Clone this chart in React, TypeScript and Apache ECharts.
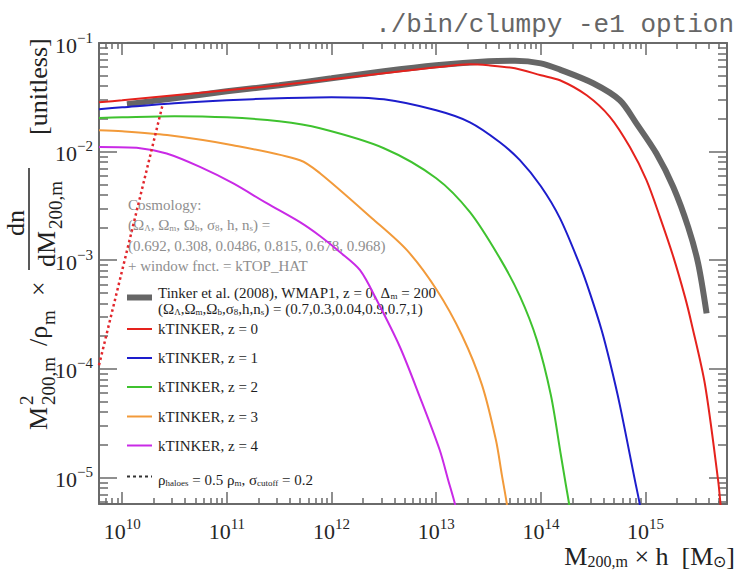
import { useEffect, useRef } from "react";
import * as echarts from "echarts";

// Halo mass M_200,m x h [M_sun] and M^2/rho_m x dn/dM [unitless] for each curve
const tinkerMass = [1.11e10, 3.16e10, 1e11, 3.16e11, 1e12, 3.16e12, 1e13, 3.16e13, 5.65e13, 1e14, 1.52e14, 3.16e14, 5.68e14, 8.2e14, 1.27e15, 1.84e15, 2.55e15, 3.18e15, 3.83e15];
const tinkerValue = [0.0273, 0.031, 0.0359, 0.0408, 0.0473, 0.0549, 0.0623, 0.0679, 0.0686, 0.065, 0.0569, 0.0426, 0.0297, 0.0181, 0.0096, 0.00473, 0.00203, 0.000935, 0.000324];

const z0Mass = [6e9, 1e10, 3.16e10, 1e11, 3.16e11, 1e12, 3.16e12, 1e13, 2.1e13, 3.16e13, 5.65e13, 1e14, 1.52e14, 2.74e14, 4.56e14, 7.08e14, 1.02e15, 1.37e15, 1.84e15, 2.38e15, 2.75e15, 3.69e15, 4.93e15, 5.2e15, 5.47e15];
const z0Value = [0.0285, 0.0297, 0.033, 0.0367, 0.0408, 0.0463, 0.0526, 0.0597, 0.0637, 0.0623, 0.0585, 0.0505, 0.0454, 0.033, 0.0209, 0.011, 0.00546, 0.00251, 0.00108, 0.00046, 0.000262, 7.25e-5, 9.5e-6, 5.7e-6, 3.3e-6];

const z1Mass = [6e9, 1e10, 3.16e10, 1e11, 3.16e11, 1e12, 3.16e12, 1e13, 2.1e13, 4.05e13, 6.3e13, 1e14, 1.52e14, 2.36e14, 2.94e14, 3.8e14, 4.56e14, 5.68e14, 7.9e14, 8.8e14, 9.6e14];
const z1Value = [0.0246, 0.0256, 0.0279, 0.0297, 0.031, 0.0317, 0.0303, 0.024, 0.0186, 0.0122, 0.00834, 0.0048, 0.00244, 0.0009, 0.000498, 0.000228, 0.000116, 4.64e-5, 9.5e-6, 5.7e-6, 3.4e-6];

const z2Mass = [6e9, 1e10, 3.16e10, 1e11, 3.16e11, 7.75e11, 3.16e12, 1e13, 2.1e13, 4.05e13, 6.3e13, 9.16e13, 1.245e14, 1.552e14, 1.733e14, 1.86e14, 2.02e14];
const z2Value = [0.0204, 0.0207, 0.0212, 0.0207, 0.019, 0.0164, 0.01075, 0.00569, 0.00277, 0.001046, 0.000467, 0.000184, 5.74e-5, 1.61e-5, 8.53e-6, 5.7e-6, 3.0e-6];

const z3Mass = [6e9, 1e10, 2.68e10, 1.14e11, 4.99e11, 7.75e11, 2.43e12, 5.25e12, 1.016e13, 1.76e13, 2.74e13, 3.72e13, 4.24e13, 4.73e13, 5.06e13];
const z3Value = [0.0157, 0.0154, 0.0142, 0.01145, 0.00834, 0.00633, 0.00244, 0.001238, 0.00053, 0.000204, 7.09e-5, 2.21e-5, 1.05e-5, 5.7e-6, 3.5e-6];

const z4Mass = [6e9, 1.48e10, 2.66e10, 5.53e10, 1.14e11, 2.4e11, 4.99e11, 7.75e11, 1.2e12, 1.87e12, 2.7e12, 4.5e12, 6.98e12, 1.08e13, 1.3e13, 1.51e13, 1.61e13];
const z4Value = [0.011, 0.01075, 0.0096, 0.00723, 0.00512, 0.00335, 0.00224, 0.00167, 0.00119, 0.00081, 0.00043, 0.000159, 5.5e-5, 1.79e-5, 9.5e-6, 5.7e-6, 4.06e-6];

// rho_haloes = 0.5 rho_m cut-off branch
const cutoffMass = [6e9, 2.45e10];
const cutoffValue = [1.08e-4, 0.0278];

const xMin = 6e9;
const xMax = 6e15;
const yMin = 5.7e-6;
const yMax = 0.1;
const xMajorTicks = [1e10, 1e11, 1e12, 1e13, 1e14, 1e15];
const yMajorTicks = [1e-5, 1e-4, 1e-3, 1e-2, 1e-1];

const redshiftLabels = ["kTINKER, z = 0", "kTINKER, z = 1", "kTINKER, z = 2", "kTINKER, z = 3", "kTINKER, z = 4"];
const tinkerLabel = ["Tinker et al. (2008), WMAP1, z = 0, Δ{s|m} = 200", "(Ω{s|Λ},Ω{s|m},Ω{s|b},σ{s|8},h,n{s|s}) = (0.7,0.3,0.04,0.9,0.7,1)"];
const cutoffLabel = "ρ{s|haloes} = 0.5 ρ{s|m}, σ{s|cutoff} = 0.2";
const cosmologyLines = ["Cosmology:", "(Ω{s|Λ}, Ω{s|m}, Ω{s|b}, σ{s|8}, h, n{s|s}) =", "(0.692, 0.308, 0.0486, 0.815, 0.678, 0.968)", "+ window fnct. = kTOP_HAT"];

const SERIF = "'Liberation Serif', 'Times New Roman', serif";
const FRAME = "#6a6a6a";
const COLORS = ["#e5221d", "#1d1dcc", "#3fc22f", "#f29a3a", "#c92ae6"];
const GRAY = "#666666";

function minorTicks(lo: number, hi: number): number[] {
  const out: number[] = [];
  for (let e = Math.floor(Math.log10(lo)); e <= Math.ceil(Math.log10(hi)); e++) {
    for (let k = 2; k <= 9; k++) {
      const v = k * Math.pow(10, e);
      if (v >= lo * 0.999 && v <= hi * 1.001) out.push(v);
    }
  }
  return out;
}

// Wrap plain segments as {t|...} and keep {s|...} sub-scripts
function richLine(src: string): string {
  const parts = src.split(/(\{s\|[^}]*\})/);
  return parts.filter((p) => p.length > 0).map((p) => (p.startsWith("{s|") ? p : `{t|${p}}`)).join("");
}

function powLabel(v: number): string {
  const e = Math.round(Math.log10(v));
  const s = e < 0 ? "\u2212" + String(-e) : String(e);
  return `{b|10}{e|${s}}`;
}

const labelRich = {
  b: { fontFamily: SERIF, fontSize: 22, color: "#262626", lineHeight: 26, verticalAlign: "bottom" },
  e: { fontFamily: SERIF, fontSize: 15, color: "#262626", lineHeight: 14, verticalAlign: "top" },
};

function textRich(color: string, size: number) {
  return {
    t: { fontFamily: SERIF, fontSize: size, fill: color, color, lineHeight: size + 7, verticalAlign: "bottom" },
    s: { fontFamily: SERIF, fontSize: Math.round(size * 0.62), fill: color, color, lineHeight: Math.round(size * 0.62) + 1, verticalAlign: "bottom" },
  };
}

function serifText(x: number, y: number, text: string, size: number, color = "#222", align = "left") {
  return {
    type: "text",
    x,
    y,
    style: { text, font: `${size}px ${SERIF}`, fill: color, textAlign: align, textVerticalAlign: "middle" },
  };
}

function richText(x: number, y: number, src: string, size: number, color: string, align = "left") {
  return {
    type: "text",
    x,
    y,
    style: { text: richLine(src), rich: textRich(color, size), textAlign: align, textVerticalAlign: "middle", fill: color },
  };
}

function buildOption() {
  const xMinor = minorTicks(xMin, xMax);
  const yMinor = minorTicks(yMin, yMax);
  const axisLine = { show: true, onZero: false, lineStyle: { color: FRAME, width: 2 } };
  const tickStyle = { color: FRAME, width: 1.5 };

  const xAxisBase = { type: "log", logBase: 10, min: xMin, max: xMax, splitLine: { show: false }, minorTick: { show: false } };
  const yAxisBase = { type: "log", logBase: 10, min: yMin, max: yMax, splitLine: { show: false }, minorTick: { show: false } };

  const xAxis = [
    { ...xAxisBase, position: "bottom", axisLine, axisTick: { show: true, inside: true, length: 12, customValues: xMajorTicks, lineStyle: tickStyle }, axisLabel: { show: true, customValues: xMajorTicks, margin: 12, formatter: powLabel, rich: labelRich } },
    { ...xAxisBase, position: "bottom", axisLine: { show: false }, axisTick: { show: true, inside: true, length: 6, customValues: xMinor, lineStyle: tickStyle }, axisLabel: { show: false } },
    { ...xAxisBase, position: "top", axisLine, axisTick: { show: true, inside: true, length: 12, customValues: xMajorTicks, lineStyle: tickStyle }, axisLabel: { show: false } },
    { ...xAxisBase, position: "top", axisLine: { show: false }, axisTick: { show: true, inside: true, length: 6, customValues: xMinor, lineStyle: tickStyle }, axisLabel: { show: false } },
  ];
  const yAxis = [
    { ...yAxisBase, position: "left", axisLine, axisTick: { show: true, inside: true, length: 18, customValues: yMajorTicks, lineStyle: tickStyle }, axisLabel: { show: true, customValues: yMajorTicks, margin: 6, formatter: powLabel, rich: labelRich } },
    { ...yAxisBase, position: "left", axisLine: { show: false }, axisTick: { show: true, inside: true, length: 9, customValues: yMinor, lineStyle: tickStyle }, axisLabel: { show: false } },
    { ...yAxisBase, position: "right", axisLine, axisTick: { show: true, inside: true, length: 18, customValues: yMajorTicks, lineStyle: tickStyle }, axisLabel: { show: false } },
    { ...yAxisBase, position: "right", axisLine: { show: false }, axisTick: { show: true, inside: true, length: 9, customValues: yMinor, lineStyle: tickStyle }, axisLabel: { show: false } },
  ];

  const pairs = (m: number[], v: number[]) => m.map((x, i) => [x, v[i]]);
  const curve = (name: string, m: number[], v: number[], color: string, width: number) => ({
    type: "line",
    name,
    data: pairs(m, v),
    showSymbol: false,
    symbol: "none",
    smooth: 0.3,
    lineStyle: { color, width },
    xAxisIndex: 0,
    yAxisIndex: 0,
  });

  const series = [
    curve("Tinker et al. (2008)", tinkerMass, tinkerValue, GRAY, 6),
    curve(redshiftLabels[0], z0Mass, z0Value, COLORS[0], 2),
    curve(redshiftLabels[1], z1Mass, z1Value, COLORS[1], 2),
    curve(redshiftLabels[2], z2Mass, z2Value, COLORS[2], 2),
    curve(redshiftLabels[3], z3Mass, z3Value, COLORS[3], 2),
    curve(redshiftLabels[4], z4Mass, z4Value, COLORS[4], 2),
    { ...curve("cut-off", cutoffMass, cutoffValue, "#e2262c", 2.5), smooth: false, lineStyle: { color: "#e2262c", width: 2.5, type: [2.5, 3] } },
  ];

  // legend block
  const swX1 = 127;
  const swX2 = 152;
  const txtX = 158;
  const rowY = [329, 358, 387, 416.5, 445.5];
  const legend: any[] = [
    { type: "line", shape: { x1: swX1, y1: 297.5, x2: swX2, y2: 297.5 }, style: { stroke: GRAY, lineWidth: 6 } },
    richText(txtX, 289, tinkerLabel[0], 15, "#1e1e1e"),
    richText(txtX, 305, tinkerLabel[1], 15, "#1e1e1e"),
    { type: "line", shape: { x1: swX1, y1: 476.5, x2: swX2, y2: 476.5 }, style: { stroke: "#333", lineWidth: 2, lineDash: [3, 3] } },
    richText(txtX, 476.5, cutoffLabel, 15, "#1e1e1e"),
  ];
  redshiftLabels.forEach((lab, i) => {
    legend.push({ type: "line", shape: { x1: swX1, y1: rowY[i], x2: swX2, y2: rowY[i] }, style: { stroke: COLORS[i], lineWidth: 2 } });
    legend.push(serifText(txtX, rowY[i], lab, 15, "#1e1e1e"));
  });

  const cosmoY = [201, 221.5, 242, 262.5];
  const cosmo = cosmologyLines.map((l, i) => richText(128, cosmoY[i], l, 15, "#8e8e8e"));

  // rotated y-axis title: M^2_200,m / rho_m x dn/dM_200,m [unitless]
  const F = 26;
  const S = 19;
  const txt = (a: number, b: number, text: string, size: number, align = "left") => ({
    type: "text",
    x: a,
    y: b,
    style: { text, font: `${size}px ${SERIF}`, fill: "#222", textAlign: align, textVerticalAlign: "middle" },
  });
  const yTitle = {
    type: "group",
    x: 0,
    y: 430,
    rotation: Math.PI / 2,
    children: [
      txt(0, 38, "M", F),
      txt(25, 26, "2", S),
      txt(25, 48, "200,m", S),
      txt(84, 38, "/ρ", F),
      txt(105, 48, "m", S),
      txt(134, 38, "×", F),
      { type: "line", shape: { x1: 160, y1: 29, x2: 262, y2: 29 }, style: { stroke: "#222", lineWidth: 1.5 } },
      txt(207, 15, "dn", F, "center"),
      txt(163, 46, "dM", F),
      txt(201, 55, "200,m", S),
      txt(295, 38, "[unitless]", F),
    ],
  };

  const xTitle = {
    type: "text",
    x: 735,
    y: 553,
    style: { text: richLine("M{s|200,m} × h  [M{s|⊙}]"), rich: textRich("#222", 26), textAlign: "right", textVerticalAlign: "middle" },
  };

  const title = {
    type: "text",
    x: 734,
    y: 25,
    style: { text: "./bin/clumpy -e1 option", font: `26px 'Liberation Mono', monospace`, fill: "#666666", textAlign: "right", textVerticalAlign: "middle" },
  };

  return {
    animation: false,
    backgroundColor: "#ffffff",
    grid: { left: 99, right: 9, top: 43, bottom: 66, containLabel: false, outerBoundsMode: "none" },
    xAxis,
    yAxis,
    series,
    graphic: [...cosmo, ...legend, yTitle, xTitle, title],
  };
}

export default function App() {
  const ref = useRef<HTMLDivElement>(null);
  useEffect(() => {
    if (!ref.current) return;
    const chart = echarts.init(ref.current, undefined, { renderer: "svg" });
    chart.setOption(buildOption() as any);
    return () => chart.dispose();
  }, []);
  return <div ref={ref} style={{ position: "fixed", left: 0, top: 0, width: 736, height: 570, background: "#fff" }} />;
}
